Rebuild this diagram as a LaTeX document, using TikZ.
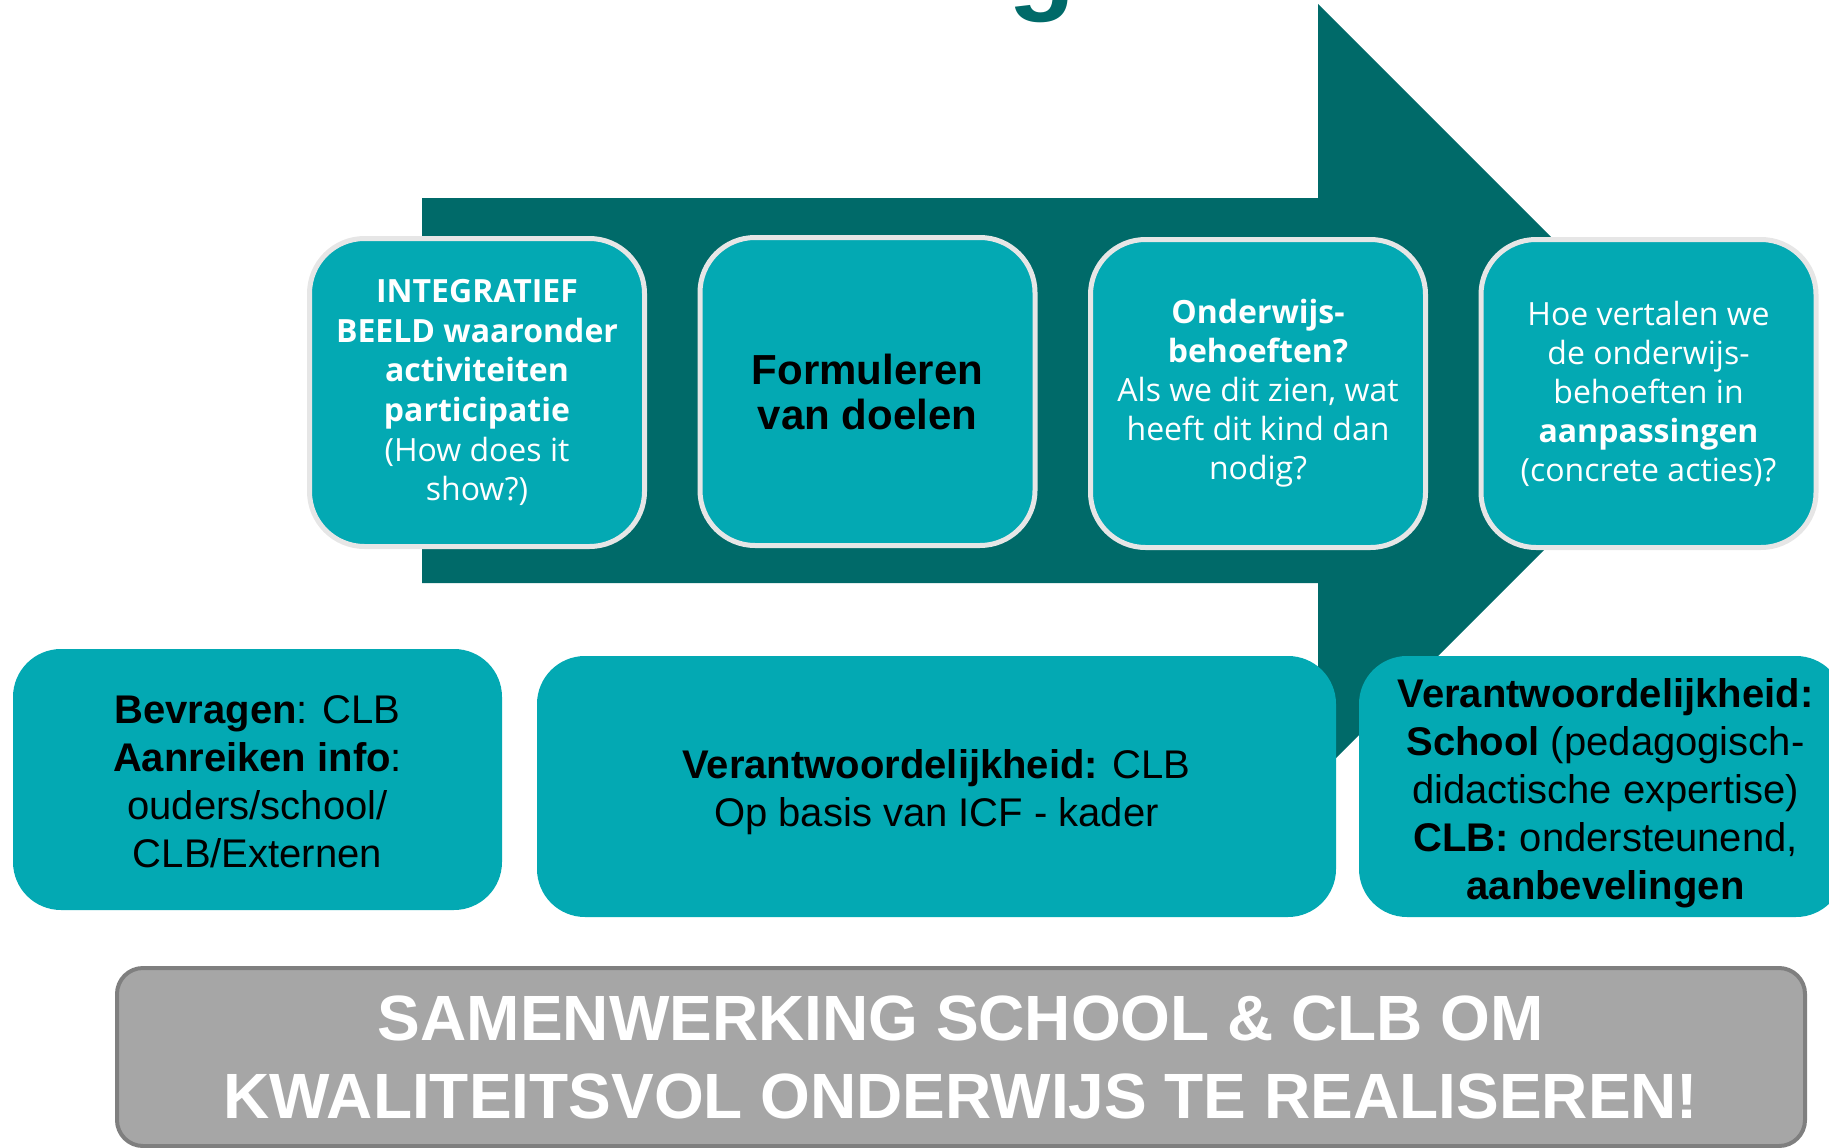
\documentclass[tikz,border=0pt]{standalone}
\usepackage{fontspec}
\setmainfont{Liberation Sans}
\newfontfamily\opensans{Open Sans}

\definecolor{pijl}{HTML}{006A69}
\definecolor{vak}{HTML}{03A9B3}
\definecolor{rand}{HTML}{E6E6E6}
\definecolor{balk}{HTML}{A6A6A6}
\definecolor{balkrand}{HTML}{7F7F7F}

\tikzset{
  stap/.style={
    rounded corners=55pt, fill=vak, draw=rand, line width=5pt,
    minimum width=335pt, minimum height=308pt, inner sep=0pt,
    align=center, text=white,
    font=\opensans\fontsize{32}{39}\selectfont
  },
  taak/.style={
    rounded corners=48pt, fill=vak, draw=none, inner sep=0pt,
    minimum height=261pt
  },
  taaktekst/.style={
    inner sep=0pt, align=center, text=black,
    font=\fontsize{40}{48}\selectfont
  }
}

\begin{document}
\begin{tikzpicture}[
  x=1pt, y=-1pt,
  line join=round
]
  \useasboundingbox (0,0) rectangle (1829,1148);
  \clip (0,0) rectangle (1829,1148);

  % Rest van de titel (afgesneden)
  \node[anchor=base west, inner sep=0pt, text=pijl,
        font=\bfseries\fontsize{110}{110}\selectfont] (titel) at (1008,0) {g};

  % Grote pijl op de achtergrond
  \coordinate (P1) at (422,198);
  \coordinate (P2) at (1318,198);
  \coordinate (P3) at (1318,4);
  \coordinate (P4) at (1704,390);
  \coordinate (P5) at (1318,776);
  \coordinate (P6) at (1318,583);
  \coordinate (P7) at (422,583);
  \fill[pijl] (P1) -- (P2) -- (P3) -- (P4) -- (P5) -- (P6) -- (P7) -- cycle;

  % Stappen op de pijl
  \node[stap, font=\opensans\fontsize{32}{39.7}\selectfont] (stap1) at (477,392.5)
    {\textbf{INTEGRATIEF}\\ \textbf{BEELD waaronder}\\ \textbf{activiteiten}\\
     \textbf{participatie}\\ (How does it\\ show?)};
  \node[stap, text=black, font=\bfseries\fontsize{42}{45}\selectfont] (stap2) at (867.5,391.5)
    {Formuleren\\ van doelen};
  \node[stap] (stap3) at (1258,393.5)
    {\textbf{Onderwijs-}\\ \textbf{behoeften?}\\ Als we dit zien, wat\\ heeft dit kind dan\\ nodig?};
  \node[stap] (stap4) at (1648.5,393.5)
    {Hoe vertalen we\\ de onderwijs-\\ behoeften in\\ \textbf{aanpassingen}\\ (concrete acties)?};

  % Wie doet wat
  \node[taak, minimum width=489pt] (taak1) at (257.5,779.5) {};
  \node[taak, minimum width=799pt] (taak2) at (936.5,786.5) {};
  \node[taak, minimum width=485pt] (taak3) at (1601.5,786.5) {};

  \node[taaktekst] (tekst1) at ([yshift=-2pt]taak1.center)
    {\textbf{Bevragen}: CLB\\ \textbf{Aanreiken info}:\\ ouders/school/\\ CLB/Externen};
  \node[taaktekst] (tekst2) at ([yshift=-6pt]taak2.center)
    {\textbf{Verantwoordelijkheid:} CLB\\ Op basis van ICF - kader};
  \node[taaktekst] (tekst3) at ([xshift=4pt, yshift=-7pt]taak3.center)
    {\textbf{Verantwoordelijkheid:}\\ \textbf{School} (pedagogisch-\\ didactische expertise)\\
     \textbf{CLB:} ondersteunend,\\ \textbf{aanbevelingen}};

  % Slotboodschap
  \node[rounded corners=26pt, fill=balk, draw=balkrand, line width=4pt,
        minimum width=1688pt, minimum height=178pt, inner sep=0pt,
        align=center, text=white, font=\bfseries\fontsize{64}{78}\selectfont] (slot) at (961,1057)
    {SAMENWERKING SCHOOL \& CLB OM\\ KWALITEITSVOL ONDERWIJS TE REALISEREN!};
\end{tikzpicture}
\end{document}
